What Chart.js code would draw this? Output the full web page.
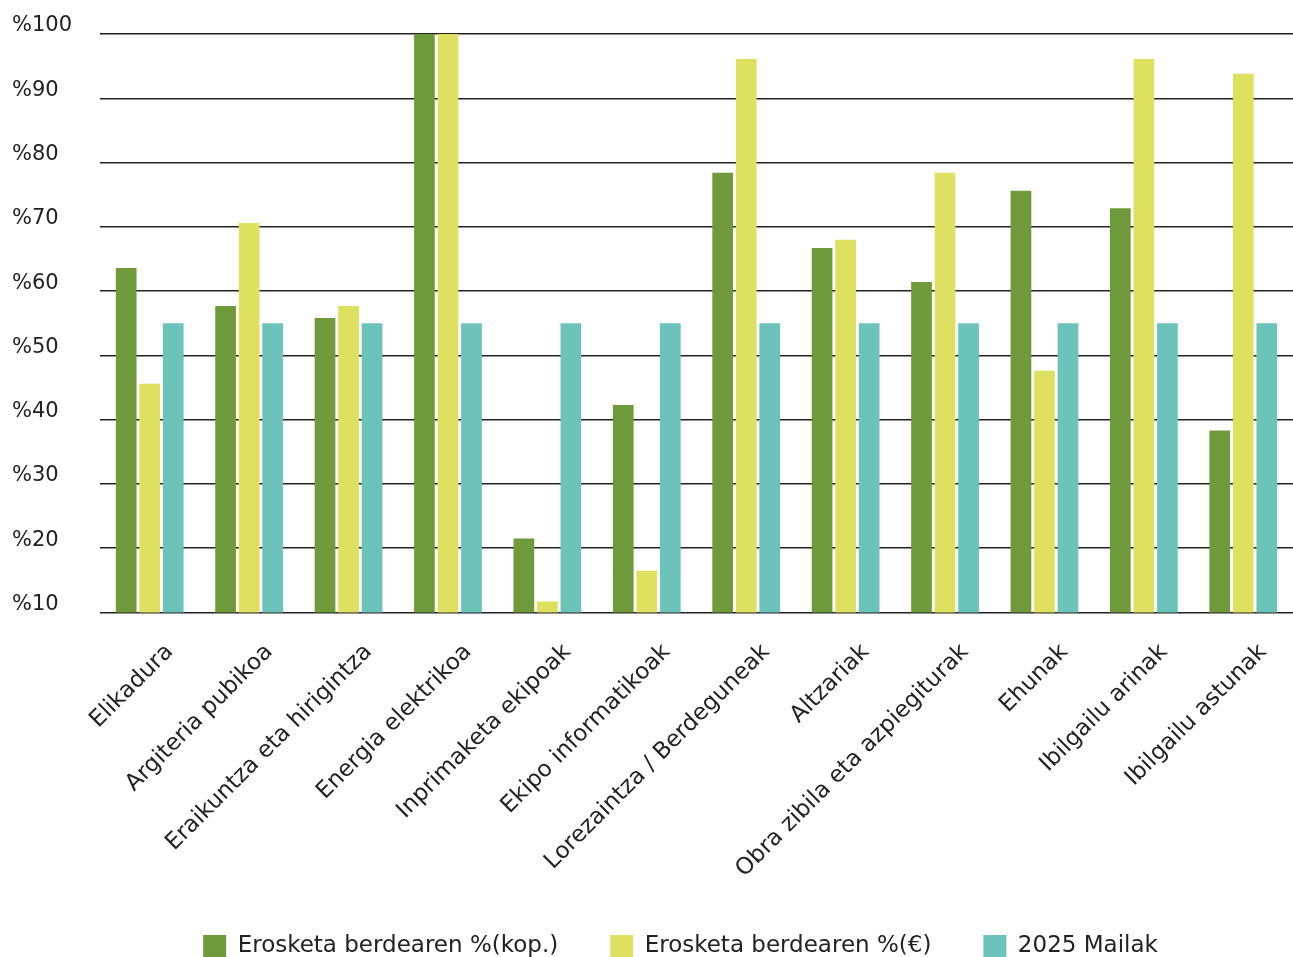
<!DOCTYPE html>
<html>
<head>
<meta charset="utf-8">
<script src="https://cdn.jsdelivr.net/npm/chart.js@4"></script>
<style>
  html, body { margin: 0; padding: 0; background: #fff; }
  #wrap { width: 1293px; height: 957px; }
</style>
</head>
<body>
<div id="wrap"><canvas id="chart" width="1293" height="957"></canvas></div>
<script>
const categories = [
  "Elikadura", "Argiteria pubikoa", "Eraikuntza eta hirigintza", "Energia elektrikoa",
  "Inprimaketa ekipoak", "Ekipo informatikoak", "Lorezaintza / Berdeguneak", "Altzariak",
  "Obra zibila eta azpiegiturak", "Ehunak", "Ibilgailu arinak", "Ibilgailu astunak"
];
const kopValues  = [63.6, 57.7, 55.8, 100, 21.5, 42.3, 78.4, 66.7, 61.4, 75.6, 72.9, 38.3];
const euroValues = [45.6, 70.6, 57.7, 100, 11.7, 16.5, 96.1, 68.0, 78.4, 47.6, 96.1, 93.8];
const mailak     = [55, 55, 55, 55, 55, 55, 55, 55, 55, 55, 55, 55];
const seriesNames = ["Erosketa berdearen %(kop.)", "Erosketa berdearen %(€)", "2025 Mailak"];

const FONT = "'DejaVu Sans', sans-serif";
const TXT = "#222";

function ds(label, data, color) {
  return {
    label, data,
    backgroundColor: color,
    borderWidth: 0,
    categoryPercentage: 0.71,
    barPercentage: 0.88,
  };
}

// legend sits a bit right of centre in the original
const shiftLegend = {
  id: "shiftLegend",
  afterLayout(c) {
    c.legend.left += 28;
    c.legend.right += 28;
  },
};

new Chart(document.getElementById("chart").getContext("2d"), {
  type: "bar",
  data: {
    labels: categories,
    datasets: [
      ds(seriesNames[0], kopValues, "#6f9a3c"),
      ds(seriesNames[1], euroValues, "#dee05f"),
      ds(seriesNames[2], mailak, "#6cc3ba"),
    ],
  },
  plugins: [shiftLegend],
  options: {
    responsive: false,
    animation: false,
    layout: { padding: { left: 12, top: 34, right: 0, bottom: -11 } },
    plugins: {
      tooltip: { enabled: false },
      legend: {
        position: "bottom",
        labels: {
          boxWidth: 23, boxHeight: 23, padding: 52,
          color: TXT, font: { family: FONT, size: 23 },
        },
      },
    },
    scales: {
      x: {
        afterFit: s => { s.height -= 18; },
        grid: { display: false },
        border: { display: false },
        ticks: {
          minRotation: 45, maxRotation: 45,
          color: TXT, font: { family: FONT, size: 23 },
          padding: 18,
          labelOffset: 20,
        },
      },
      y: {
        min: 10, max: 100,
        afterFit: s => { s.width = 88; },
        grid: { color: "#222", lineWidth: 1.5, drawTicks: false },
        border: { display: false },
        ticks: {
          stepSize: 10,
          crossAlign: "far",
          labelOffset: -8,
          padding: 0,
          color: TXT, font: { family: FONT, size: 21 },
          callback: v => "%" + v,
        },
      },
    },
  },
});
</script>
</body>
</html>
